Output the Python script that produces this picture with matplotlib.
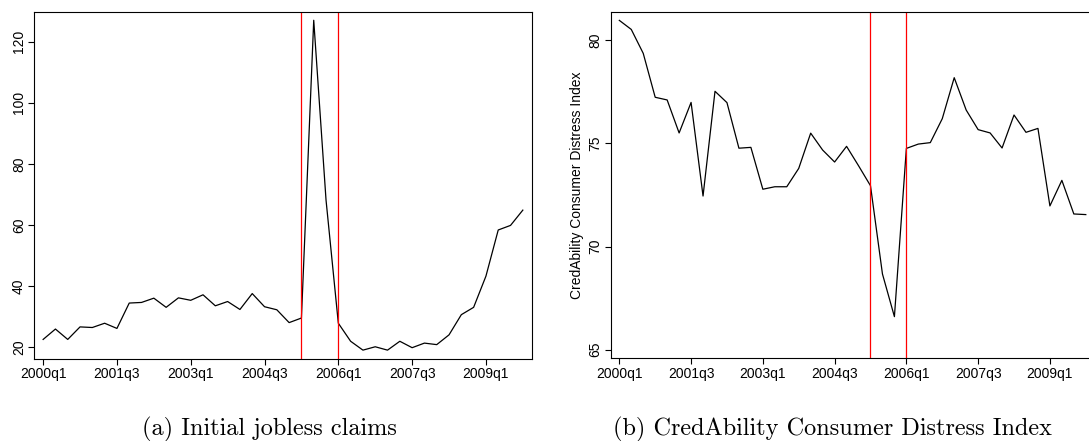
import matplotlib
matplotlib.use('Agg')
import matplotlib.pyplot as plt

# quarters 2000q1 .. 2009q4
quarters = [f"{y}q{q}" for y in range(2000, 2010) for q in range(1, 5)]
tick_labels = ['2000q1', '2001q3', '2003q1', '2004q3', '2006q1', '2007q3', '2009q1']

jobless_claims = [22.6, 26.0, 22.6, 26.7, 26.5, 27.9, 26.2, 34.5, 34.7, 36.1,
                  33.1, 36.2, 35.4, 37.2, 33.6, 35.0, 32.4, 37.6, 33.3, 32.3,
                  28.1, 29.6, 127.0, 68.2, 27.9, 22.0, 19.1, 20.2, 19.1, 22.0,
                  19.9, 21.4, 20.9, 24.1, 30.7, 33.1, 43.3, 58.4, 59.9, 64.9]

distress_index = [80.97, 80.53, 79.37, 77.24, 77.11, 75.51, 76.99, 72.45, 77.53, 76.98,
                  74.77, 74.81, 72.78, 72.90, 72.90, 73.79, 75.50, 74.68, 74.10, 74.86,
                  73.92, 72.95, 68.67, 66.60, 74.76, 74.97, 75.04, 76.20, 78.19, 76.62,
                  75.67, 75.51, 74.78, 76.38, 75.54, 75.73, 71.97, 73.21, 71.58, 71.55]

event_lines = ['2005q2', '2006q1']

plt.rcParams['font.family'] = ['Liberation Sans', 'DejaVu Sans']
plt.rcParams['font.size'] = 10

W, H = 1089, 441
fig = plt.figure(figsize=(W / 100, H / 100), dpi=100)

x = list(range(len(quarters)))
tick_pos = [quarters.index(t) for t in tick_labels]
event_pos = [quarters.index(t) for t in event_lines]


def style_axes(ax):
    for s in ax.spines.values():
        s.set_linewidth(0.8)
    ax.tick_params(direction='out', length=4, width=0.8, pad=2)
    ax.set_xticks(tick_pos)
    ax.set_xticklabels(tick_labels)
    for lab in ax.get_yticklabels():
        lab.set_rotation(90)
        lab.set_va('center')


# (a) jobless claims
ax1 = fig.add_axes([34.4 / W, (H - 359) / H, (532.3 - 34.4) / W, (359 - 11.7) / H])
ax1.plot(x, jobless_claims, color='black', lw=0.9)
for p in event_pos:
    ax1.axvline(p, color='red', lw=0.9)
ax1.set_xlim(-0.71, 39.77)
ax1.set_ylim(16.2, 129.8)
ax1.set_yticks([20, 40, 60, 80, 100, 120])
style_axes(ax1)

# (b) consumer distress index, right edge runs past the figure
ax2 = fig.add_axes([610.7 / W, (H - 358.3) / H, (1095 - 610.7) / W, (358.3 - 11.7) / H])
ax2.plot(x, distress_index, color='black', lw=0.9)
for p in event_pos:
    ax2.axvline(p, color='red', lw=0.9)
ax2.set_xlim(-0.72, 39.77)
ax2.set_ylim(64.58, 81.39)
ax2.set_yticks([65, 70, 75, 80])
ax2.set_ylabel('CredAbility Consumer Distress Index', labelpad=3)
style_axes(ax2)

cap = dict(family=['cmr10', 'DejaVu Serif'], fontsize=17.5, ha='center', va='center')
fig.text(269 / W, 1 - 429 / H, '(a) Initial jobless claims', **cap)
fig.text(832 / W, 1 - 429 / H, '(b) CredAbility Consumer Distress Index', **cap)

fig.savefig('out.png', dpi=100)
